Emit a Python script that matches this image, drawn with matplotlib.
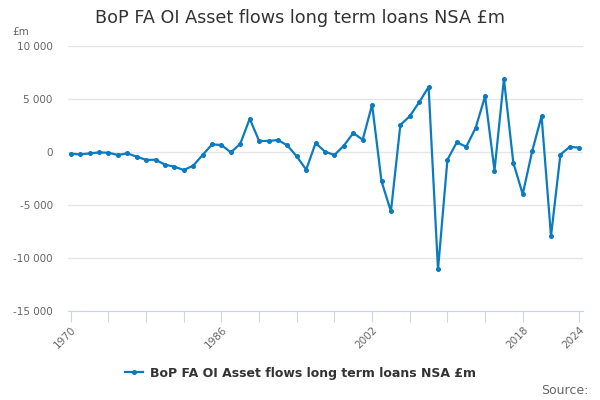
import numpy as np
import matplotlib
matplotlib.use("Agg")
import matplotlib.pyplot as plt
from matplotlib.ticker import FuncFormatter, FixedLocator

# data
years = list(range(1970, 2025))
values = [-160, -230, -130, -40, -70, -280, -130, -440, -750, -730,
          -1200, -1390, -1700, -1290, -280, 720, 660, -40, 780, 3140,
          1040, 1040, 1130, 620, -420, -1670, 850, 30, -280, 600,
          1790, 1160, 4460, -2770, -5600, 2550, 3380, 4700, 6130, -11080,
          -730, 920, 490, 2280, 5260, -1750, 6900, -1020, -3980, 75,
          3380, -7940, -240, 490, 400]
tick_years = list(range(1970, 2019, 4)) + [2024]
label_years = [1970, 1986, 2002, 2018, 2024]
series_name = "BoP FA OI Asset flows long term loans NSA £m"

blue = "#0b7bc1"

fig = plt.figure(figsize=(6, 4), dpi=100)
ax = fig.add_axes([68 / 600, 1 - 311 / 400, (583 - 68) / 600, (311 - 46) / 400])

ax.plot(years, values, color=blue, lw=1.6, marker="o", ms=2.6, zorder=3)

ax.set_ylim(-15000, 10000)
ax.set_yticks(range(-15000, 10001, 5000))
ax.yaxis.set_major_formatter(FuncFormatter(lambda v, p: f"{int(v):,}".replace(",", " ")))
ax.set_xlim(1969.7, 2024.4)
ax.xaxis.set_major_locator(FixedLocator(tick_years))
ax.set_xticklabels([str(y) if y in label_years else "" for y in tick_years],
                   rotation=45, ha="right", rotation_mode="anchor")

ax.grid(axis="y", color="#e6e6e6", lw=1)
ax.set_axisbelow(True)
for s in ["top", "right", "left"]:
    ax.spines[s].set_visible(False)
ax.spines["bottom"].set_color("#ccd6eb")
ax.tick_params(axis="y", length=0, labelsize=7.5, labelcolor="#666666", pad=11)
ax.tick_params(axis="x", length=8, color="#ccd6eb", labelsize=7.5, labelcolor="#666666", pad=2)

fig.text(0.5, 1 - 18 / 400, series_name, ha="center", va="center", fontsize=12.7, color="#333333")
fig.text(12 / 600, 1 - 32 / 400, "£m", ha="left", va="center", fontsize=7.5, color="#666666")

ax.legend(loc="center", bbox_to_anchor=(0.5, 1 - 373 / 400), bbox_transform=fig.transFigure,
          frameon=False, prop={"weight": "bold", "size": 9}, labelcolor="#333333",
          handlelength=1.5, handletextpad=0.5, labels=[series_name])
fig.text(588 / 600, 1 - 390 / 400, "Source:", ha="right", va="center", fontsize=9, color="#666666")

fig.savefig("out.png", dpi=100)
